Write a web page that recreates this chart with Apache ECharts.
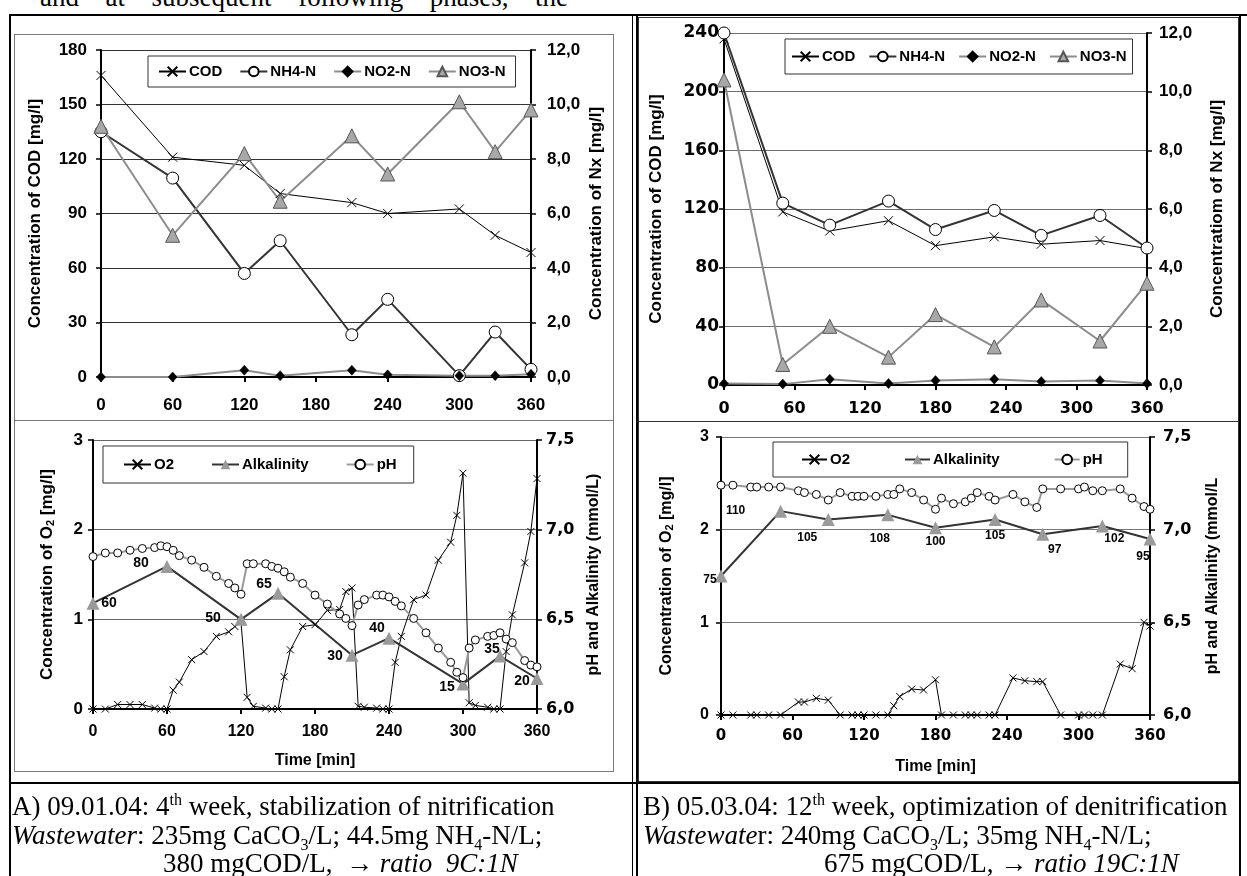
<!DOCTYPE html>
<html>
<head>
<meta charset="utf-8">
<title>SBR cycle profiles A and B</title>
<script src="https://cdn.jsdelivr.net/npm/echarts@6/dist/echarts.min.js"></script>
<style>
  html, body { margin: 0; padding: 0; background: #fff; }
  #page { position: relative; width: 1247px; height: 876px; overflow: hidden; }
  .ln { position: absolute; background: #000; }
  .box { position: absolute; box-sizing: border-box; border: 1px solid #7a7a7a; }
  .boxb { position: absolute; box-sizing: border-box; border: 1px solid #333; }
  #chart { position: absolute; left: 0; top: 0; width: 1247px; height: 876px; }
  .intro {
    position: absolute; left: 40px; top: -16px; width: 528px;
    font: 27px/27px "Liberation Serif", "Times New Roman", serif;
    text-align: justify; text-align-last: justify;
  }
  .cap {
    position: absolute; white-space: nowrap;
    font: 27px/28.5px "Liberation Serif", "Times New Roman", serif; color: #000;
  }
  .cap sup, .cap sub { font-size: 16px; line-height: 0; }
</style>
</head>
<body>
<div id="page">
  <div class="intro">and at subsequent following phases, the</div>

  <div class="box" style="left:14px;top:34px;width:600px;height:387px"></div>
  <div class="box" style="left:14px;top:420px;width:600px;height:352px"></div>
  <div class="boxb" style="left:638px;top:17px;width:601px;height:405px"></div>
  <div class="boxb" style="left:638px;top:421px;width:601px;height:361px"></div>

  <div class="ln" style="left:9px;top:14px;width:1238px;height:2px"></div>
  <div class="ln" style="left:9px;top:14px;width:2px;height:862px"></div>
  <div class="ln" style="left:632px;top:14px;width:1px;height:862px"></div>
  <div class="ln" style="left:636px;top:14px;width:2px;height:862px"></div>
  <div class="ln" style="left:1239px;top:14px;width:2px;height:862px"></div>
  <div class="ln" style="left:9px;top:782px;width:1232px;height:2px"></div>

  <div id="chart"></div>

  <div class="cap" style="left:12px;top:792px">A) 09.01.04: 4<sup>th</sup> week, stabilization of nitrification<br><i>Wastewater</i>: 235mg CaCO<sub>3</sub>/L; 44.5mg NH<sub>4</sub>-N/L;<br><span style="padding-left:151px">380 mgCOD/L, &nbsp;&rarr; <i>ratio &nbsp;9C:1N</i></span></div>
  <div class="cap" style="left:643px;top:792px">B) 05.03.04: 12<sup>th</sup> week, optimization of denitrification<br><i>Wastewate</i>r: 240mg CaCO<sub>3</sub>/L; 35mg NH<sub>4</sub>-N/L;<br><span style="padding-left:181px">675 mgCOD/L, &rarr; <i>ratio 19C:1N</i></span></div>
</div>

<script>
// ---- A) nitrogen profile (top left)
const timeA = [0, 60, 120, 150, 210, 240, 300, 330, 360];
const codA = [166, 121, 116.5, 101, 96, 90, 92.5, 78, 68.5];
const nh4A = [9.0, 7.3, 3.8, 5.0, 1.55, 2.85, 0.05, 1.65, 0.28];
const no2A = [0, 0, 0.25, 0.05, 0.25, 0.08, 0.05, 0.05, 0.1];
const no3A = [9.2, 5.2, 8.2, 6.45, 8.85, 7.45, 10.1, 8.27, 9.8];

// ---- B) nitrogen profile (top right)
const timeB = [0, 50, 90, 140, 180, 230, 270, 320, 360];
const codB = [236, 118, 105, 112, 95, 101, 96, 98.5, 93];
const nh4B = [12.0, 6.2, 5.45, 6.27, 5.3, 5.95, 5.1, 5.78, 4.67];
const no2B = [0.05, 0.03, 0.2, 0.05, 0.15, 0.2, 0.12, 0.15, 0.05];
const no3B = [10.4, 0.7, 2.0, 0.95, 2.4, 1.3, 2.9, 1.5, 3.47];

// ---- A) O2 / pH / alkalinity (bottom left)
const sampleTimeA = [0, 10, 20, 30, 40, 50, 55, 60, 65, 70, 80, 90, 100, 110, 115, 120,
  125, 130, 140, 145, 150, 155, 160, 170, 180, 190, 200, 205, 210, 215, 220, 230, 235, 240,
  245, 250, 260, 270, 280, 290, 295, 300, 305, 310, 320, 325, 330, 335, 340, 350, 355, 360];
const o2A = [0, 0, 0.05, 0.05, 0.05, 0.01, 0, 0, 0.21, 0.3, 0.55, 0.64, 0.81, 0.86, 0.92, 0.97,
  0.13, 0.03, 0.01, 0, 0, 0.36, 0.66, 0.92, 0.94, 1.1, 1.11, 1.31, 1.35, 0.03, 0.02, 0.01, 0, 0,
  0.52, 0.81, 1.22, 1.27, 1.66, 1.86, 2.16, 2.63, 0.07, 0.04, 0.02, 0, 0, 0.64, 1.05, 1.63, 1.98, 2.57];
const phA = [6.85, 6.87, 6.87, 6.885, 6.895, 6.9, 6.91, 6.905, 6.885, 6.855, 6.83, 6.79, 6.74, 6.7, 6.675, 6.64,
  6.81, 6.81, 6.81, 6.795, 6.785, 6.765, 6.735, 6.7, 6.635, 6.585, 6.53, 6.505, 6.465, 6.58, 6.61, 6.635, 6.635, 6.625,
  6.6, 6.575, 6.505, 6.425, 6.34, 6.26, 6.205, 6.175, 6.34, 6.385, 6.405, 6.41, 6.425, 6.39, 6.37, 6.27, 6.245, 6.235];
const alkA = [59, 79.5, 50, 64.5, 30, 39.5, 14, 29.5, 17];
const alkLabelsA = ['60', '80', '50', '65', '30', '40', '15', '35', '20'];

// ---- B) O2 / pH / alkalinity (bottom right)
const sampleTimeB = [0, 10, 25, 30, 40, 50, 65, 70, 80, 90, 100, 110, 115, 120, 130, 140,
  145, 150, 160, 170, 180, 185, 195, 205, 210, 215, 225, 230, 245, 255, 265, 270,
  285, 300, 305, 312, 320, 335, 345, 355, 360];
const o2B = [0, 0, 0, 0, 0, 0, 0.14, 0.14, 0.18, 0.16, 0, 0, 0, 0, 0, 0,
  0.1, 0.2, 0.28, 0.27, 0.38, 0, 0, 0, 0, 0, 0, 0, 0.4, 0.37, 0.36, 0.36,
  0, 0, 0, 0, 0, 0.55, 0.5, 1.0, 0.96];
const phB = [7.24, 7.24, 7.23, 7.23, 7.23, 7.23, 7.21, 7.2, 7.19, 7.16, 7.2, 7.18, 7.18, 7.18, 7.18, 7.19,
  7.19, 7.22, 7.2, 7.16, 7.11, 7.17, 7.14, 7.15, 7.17, 7.2, 7.18, 7.16, 7.19, 7.15, 7.12, 7.22,
  7.22, 7.22, 7.23, 7.21, 7.21, 7.22, 7.17, 7.125, 7.11];
const alkB = [75, 110, 105.5, 108, 101, 105.5, 97.5, 102, 95];
const alkLabelsB = ['75', '110', '105', '108', '100', '105', '97', '102', '95'];

// label nudges for the alkalinity values (label centre minus marker centre)
const alkOffsetA = [[16, 0], [-26, -3], [-28, -1], [-14, -9], [-17, 1], [-12, -10], [-16, 3], [-8, -7], [-15, 3]];
const alkOffsetB = [[-11, 4], [-45, 0], [-21, 18], [-8, 24], [0, 14], [0, 16], [12, 15], [12, 13], [-7, 18]];

const FONT = '"Liberation Sans", Arial, sans-serif';
const WIDE = '"DejaVu Sans", sans-serif';
const CROSS = 'path://M0,0L10,10M0,10L10,0';

function pairs(xs, ys) {
  return xs.map((x, i) => [x, ys[i]]);
}

function comma(v) {
  return v.toFixed(1).replace('.', ',');
}

function timeAxis(grid, margin, size, font, name) {
  return {
    type: 'value', gridIndex: grid, min: 0, max: 360, interval: 60,
    axisLine: { onZero: false, lineStyle: { color: '#000', width: 2 } },
    axisTick: { length: 5, lineStyle: { color: '#000', width: 2 } },
    axisLabel: { margin: margin, color: '#000', fontSize: size, fontWeight: 'bold', fontFamily: font },
    splitLine: { show: false },
    name: name || '', nameLocation: 'middle', nameGap: 44,
    nameTextStyle: { color: '#000', fontSize: 16, fontWeight: 'bold', fontFamily: FONT }
  };
}

function yAxis(o) {
  return {
    type: 'value', gridIndex: o.grid, position: o.pos,
    min: o.min, max: o.max, interval: o.interval,
    axisLine: { show: true, onZero: false, lineStyle: { color: '#000', width: 2 } },
    axisTick: { show: true, length: 5, lineStyle: { color: '#000', width: 1.5 } },
    axisLabel: {
      margin: o.margin, color: '#000', fontSize: o.size || 17, fontWeight: 'bold',
      fontFamily: o.font || FONT, formatter: o.formatter
    },
    splitLine: o.gridColor ? { show: true, lineStyle: { color: o.gridColor, width: 1 } } : { show: false },
    name: o.name, nameLocation: 'middle', nameGap: o.nameGap,
    nameTextStyle: {
      color: '#000', fontSize: o.nameSize || 17, fontWeight: 'bold', fontFamily: FONT,
      rich: { sub: { fontSize: 11, fontWeight: 'bold', fontFamily: FONT, verticalAlign: 'bottom' } }
    }
  };
}

function hiddenAxis(grid) {
  return { type: 'value', gridIndex: grid, min: 0, max: 150, show: false, splitLine: { show: false } };
}

function legend(left, top, names, pad, gap, width) {
  return {
    left: left, top: top, orient: 'horizontal', data: names,
    selectedMode: false, padding: pad, itemGap: gap, itemWidth: width, itemHeight: 12,
    backgroundColor: '#fff', borderColor: '#333', borderWidth: 1, borderRadius: 0,
    textStyle: { color: '#000', fontSize: 15, fontWeight: 'bold', fontFamily: FONT, padding: [0, 0, 0, -2] }
  };
}

function nitrogenSeries(x, yl, yr, t, cod, nh4, no2, no3) {
  return [
    {
      name: 'COD', type: 'line', xAxisIndex: x, yAxisIndex: yl, data: pairs(t, cod),
      symbol: CROSS, symbolSize: 9, clip: false,
      lineStyle: { color: '#000', width: 1 },
      itemStyle: { color: '#000', borderColor: '#000', borderWidth: 1 }
    },
    {
      name: 'NH4-N', type: 'line', xAxisIndex: x, yAxisIndex: yr, data: pairs(t, nh4),
      symbol: 'circle', symbolSize: 12, clip: false,
      lineStyle: { color: '#333', width: 2 },
      itemStyle: { color: '#fff', borderColor: '#000', borderWidth: 1 }
    },
    {
      name: 'NO2-N', type: 'line', xAxisIndex: x, yAxisIndex: yr, data: pairs(t, no2),
      symbol: 'diamond', symbolSize: [9, 10], clip: false,
      lineStyle: { color: '#8c8c8c', width: 2 },
      itemStyle: { color: '#000', borderColor: '#000', borderWidth: 0.5 }
    },
    {
      name: 'NO3-N', type: 'line', xAxisIndex: x, yAxisIndex: yr, data: pairs(t, no3),
      symbol: 'triangle', symbolSize: 14, clip: false,
      lineStyle: { color: '#8c8c8c', width: 2 },
      itemStyle: { color: '#a8a8a8', borderColor: '#555', borderWidth: 1 }
    }
  ];
}

function oxygenSeries(x, yl, yr, yAlk, t, o2, ph, tAlk, alk, labels, offsets, labelSize) {
  const alkData = tAlk.map((tt, i) => ({
    name: labels[i], value: [tt, alk[i]], label: { offset: offsets[i] }
  }));
  return [
    {
      name: 'O2', type: 'line', xAxisIndex: x, yAxisIndex: yl, data: pairs(t, o2),
      symbol: CROSS, symbolSize: 7, clip: false, showAllSymbol: true,
      lineStyle: { color: '#000', width: 1 },
      itemStyle: { color: '#000', borderColor: '#000', borderWidth: 1 }
    },
    {
      name: 'Alkalinity', type: 'line', xAxisIndex: x, yAxisIndex: yAlk, data: alkData,
      symbol: 'triangle', symbolSize: 13, clip: false,
      lineStyle: { color: '#333', width: 2 },
      itemStyle: { color: '#9a9a9a', borderWidth: 0 },
      label: {
        show: true, position: 'inside', formatter: '{b}', color: '#000',
        fontSize: labelSize, fontWeight: 'bold', fontFamily: FONT
      }
    },
    {
      name: 'pH', type: 'line', xAxisIndex: x, yAxisIndex: yr, data: pairs(t, ph),
      symbol: 'circle', symbolSize: 8, clip: false, showAllSymbol: true,
      lineStyle: { color: '#9a9a9a', width: 2 },
      itemStyle: { color: '#fff', borderColor: '#000', borderWidth: 1 }
    }
  ];
}

const chart = echarts.init(document.getElementById('chart'));

chart.setOption({
  animation: false,
  grid: [
    { left: 101, top: 50, width: 430, height: 327 },
    { left: 724, top: 33, width: 423, height: 352 },
    { left: 93, top: 440, width: 444, height: 269 },
    { left: 721, top: 437, width: 429, height: 278 }
  ],
  legend: [
    legend(148, 56, ['COD', 'NH4-N', 'NO2-N', 'NO3-N'], [8, 10, 8, 10], 17, 27),
    legend(785, 39, ['COD', 'NH4-N', 'NO2-N', 'NO3-N'], [10, 6, 10, 6], 13, 27),
    legend(103, 446, ['O2', 'Alkalinity', 'pH'], [11, 17, 11, 20], 37, 27),
    legend(773, 442, ['O2', 'Alkalinity', 'pH'], [10, 25, 10, 28], 54, 25)
  ],
  xAxis: [
    timeAxis(0, 20, 17, FONT),
    timeAxis(1, 16, 16, WIDE),
    timeAxis(2, 15, 16, FONT, 'Time [min]'),
    timeAxis(3, 14, 15, WIDE, 'Time [min]')
  ],
  yAxis: [
    yAxis({ grid: 0, pos: 'left', min: 0, max: 180, interval: 30, margin: 14, gridColor: '#333',
      name: 'Concentration of COD [mg/l]', nameGap: 57 }),
    yAxis({ grid: 0, pos: 'right', min: 0, max: 12, interval: 2, margin: 16, formatter: comma,
      name: 'Concentration of Nx [mg/l]', nameGap: 57 }),
    yAxis({ grid: 1, pos: 'left', min: 0, max: 240, interval: 40, margin: 5, font: WIDE, gridColor: '#6e6e6e',
      name: 'Concentration of COD [mg/l]', nameGap: 59 }),
    yAxis({ grid: 1, pos: 'right', min: 0, max: 12, interval: 2, margin: 12, formatter: comma,
      name: 'Concentratiom of Nx [mg/l]', nameGap: 62 }),
    yAxis({ grid: 2, pos: 'left', min: 0, max: 3, interval: 1, margin: 10, gridColor: '#666',
      name: 'Concentration of O{sub|2} [mg/l]', nameGap: 37 }),
    yAxis({ grid: 2, pos: 'right', min: 6, max: 7.5, interval: 0.5, margin: 9, size: 16, font: WIDE, formatter: comma,
      name: 'pH and Alkalinity (mmol/L)', nameGap: 49, nameSize: 16 }),
    hiddenAxis(2),
    yAxis({ grid: 3, pos: 'left', min: 0, max: 3, interval: 1, margin: 12, size: 16, gridColor: '#777',
      name: 'Concentration of O{sub|2} [mg/l]', nameGap: 46, nameSize: 16 }),
    yAxis({ grid: 3, pos: 'right', min: 6, max: 7.5, interval: 0.5, margin: 13, size: 16, font: WIDE, formatter: comma,
      name: 'pH and Alkalinity (mmol/L', nameGap: 55, nameSize: 16 }),
    hiddenAxis(3)
  ],
  series: [].concat(
    nitrogenSeries(0, 0, 1, timeA, codA, nh4A, no2A, no3A),
    nitrogenSeries(1, 2, 3, timeB, codB, nh4B, no2B, no3B),
    oxygenSeries(2, 4, 5, 6, sampleTimeA, o2A, phA, timeA, alkA, alkLabelsA, alkOffsetA, 14),
    oxygenSeries(3, 7, 8, 9, sampleTimeB, o2B, phB, timeB, alkB, alkLabelsB, alkOffsetB, 12)
  )
});
</script>
</body>
</html>
